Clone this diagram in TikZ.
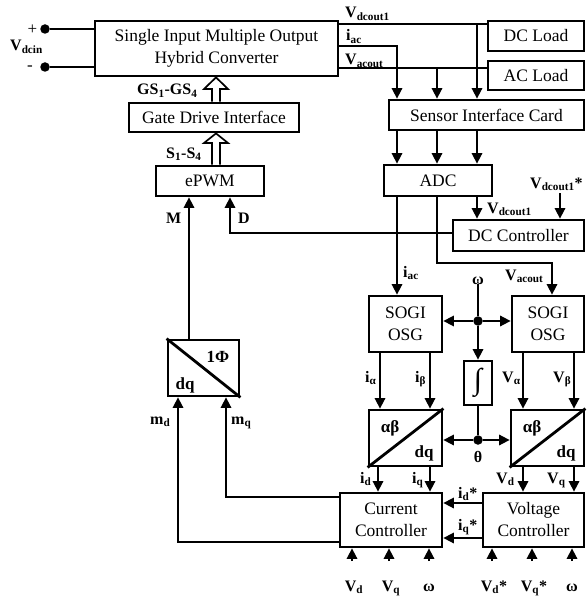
\documentclass[tikz,border=0pt]{standalone}
\usepackage{fontspec}
\setmainfont{Liberation Serif}
\usetikzlibrary{arrows.meta,calc}
\newcommand{\lsub}[2]{#1\textsubscript{#2}}
\begin{document}
\begin{tikzpicture}[x=1pt,y=-1pt,
  box/.style={draw, line width=2.8pt, font=\fontsize{17.5}{22}\selectfont, align=center, inner sep=0pt},
  lbl/.style={font=\fontsize{16}{18}\selectfont\bfseries, inner sep=0pt, anchor=base west},
  clbl/.style={font=\fontsize{16}{18}\selectfont\bfseries, inner sep=0pt, anchor=base},
  conn/.style={line width=1.7pt},
  arr/.style={conn, -{Triangle[length=10.5pt,width=10.5pt]}},
  hollow/.style={line width=1.7pt, line join=miter},
  dotn/.style={circle, fill, inner sep=0pt, minimum size=9.5pt}]
\useasboundingbox (0,0) rectangle (586,596);

% boxes
\node[box, minimum width=243pt, minimum height=55pt] (simo) at (216.5,48.5) {Single Input Multiple Output\\Hybrid Converter};
\node[box, minimum width=96pt, minimum height=30pt] (dcl) at (536,36) {DC Load};
\node[box, minimum width=96pt, minimum height=29pt] (acl) at (536,75.5) {AC Load};
\node[box, minimum width=170pt, minimum height=29pt] (gdi) at (214,117.5) {Gate Drive Interface};
\node[box, minimum width=195pt, minimum height=30pt] (sic) at (486.5,115) {Sensor Interface Card};
\node[box, minimum width=108pt, minimum height=30pt] (epwm) at (210,181) {ePWM};
\node[box, minimum width=108pt, minimum height=31pt] (adc) at (438,180.5) {ADC};
\node[box, minimum width=131pt, minimum height=31pt] (dcc) at (518.5,235.5) {DC Controller};
\node[box, minimum width=73pt, minimum height=56pt] (sogi1) at (405.5,324) {SOGI\\OSG};
\node[box, minimum width=72pt, minimum height=56pt] (sogi2) at (548,324) {SOGI\\OSG};
\node[box, minimum width=28pt, minimum height=44pt, font=\fontsize{30}{30}\selectfont] (integ) at (478,383) {∫};
\node[box, minimum width=73pt, minimum height=56pt] (abdq1) at (405.5,438) {};
\node[box, minimum width=73pt, minimum height=56pt] (abdq2) at (547.5,438) {};
\node[box, minimum width=71pt, minimum height=56pt] (phi) at (203.5,368) {};
\node[box, minimum width=102pt, minimum height=54pt] (cc) at (391,520) {Current\\Controller};
\node[box, minimum width=101pt, minimum height=54pt] (vc) at (533.5,520) {Voltage\\Controller};

% transform box diagonals and texts
\draw[line width=2.8pt] (abdq1.south west) -- (abdq1.north east);
\draw[line width=2.8pt] (abdq2.south west) -- (abdq2.north east);
\draw[line width=2.8pt] (phi.north west) -- (phi.south east);
\node[clbl, font=\fontsize{17}{18}\selectfont\bfseries] (ab1) at (390,432) {αβ};
\node[clbl, font=\fontsize{17}{18}\selectfont\bfseries] (dq1) at (424,457) {dq};
\node[clbl, font=\fontsize{17}{18}\selectfont\bfseries] (ab2) at (532,432) {αβ};
\node[clbl, font=\fontsize{17}{18}\selectfont\bfseries] (dq2) at (566,457) {dq};
\node[clbl, font=\fontsize{17}{18}\selectfont\bfseries] (p1) at (218,362) {1Φ};
\node[clbl, font=\fontsize{17}{18}\selectfont\bfseries] (pdq) at (185,389) {dq};

% input terminals
\node[dotn] (tp) at (45,29) {};
\node[dotn] (tm) at (45,67) {};
\draw[conn] (tp) -- (simo.west |- tp);
\draw[conn] (tm) -- (simo.west |- tm);
\node[inner sep=0pt, font=\fontsize{17}{18}\selectfont] (plus) at (32.5,30) {+};
\node[inner sep=0pt, font=\fontsize{17}{18}\selectfont] (minus) at (30,68) {-};
\node[lbl] (vdcin) at (10,51) {\lsub{V}{dcin}};

% hollow arrows
\draw[hollow] (212,0 |- gdi.north) -- (212,89) -- (204,89) -- (216,0 |- simo.south) -- (228,89) -- (220,89) -- (220,0 |- gdi.north);
\draw[hollow] (212,0 |- epwm.north) -- (212,143) -- (204,143) -- (216,0 |- gdi.south) -- (228,143) -- (220,143) -- (220,0 |- epwm.north);
\node[lbl] (gsl) at (137,95) {\lsub{GS}{1}-\lsub{GS}{4}};
\node[lbl] (sl) at (166,158) {\lsub{S}{1}-\lsub{S}{4}};

% converter outputs
\draw[conn] (simo.east |- 0,24) -- (dcl.west |- 0,24);
\draw[arr] (477,24) -- (477,0 |- sic.north);
\draw[arr] (simo.east |- 0,46) -- (397,46) -- (397,0 |- sic.north);
\draw[conn] (simo.east |- 0,68) -- (acl.west |- 0,68);
\draw[arr] (437,68) -- (437,0 |- sic.north);
\node[lbl] (l1) at (345,18) {\lsub{V}{dcout1}};
\node[lbl] (l2) at (346,41) {\lsub{i}{ac}};
\node[lbl] (l3) at (345,65) {\lsub{V}{acout}};

% sensor card to ADC
\foreach \x in {397,437,477} \draw[arr] (\x,0 |- sic.south) -- (\x,0 |- adc.north);

% ADC outputs
\draw[arr] (397,0 |- adc.south) -- (397,0 |- sogi1.north);
\draw[arr] (437,0 |- adc.south) -- (437,263) -- (552,263) -- (552,0 |- sogi2.north);
\draw[arr] (477,0 |- adc.south) -- (477,0 |- dcc.north);
\draw[arr] (560,193) -- (560,0 |- dcc.north);
\node[lbl] (l4) at (403,277) {\lsub{i}{ac}};
\node[lbl] (l5) at (505,280) {\lsub{V}{acout}};
\node[lbl] (l6) at (487,213) {\lsub{V}{dcout1}};
\node[lbl] (l7) at (530,188) {\lsub{V}{dcout1}*};

% DC controller to ePWM
\draw[arr] (dcc.west |- 0,233) -- (230,233) -- (230,0 |- epwm.south);
\node[lbl] (ld) at (238,223) {D};
% 1Phi to ePWM
\draw[arr] (189,0 |- phi.north) -- (189,0 |- epwm.south);
\node[lbl] (lm) at (166,223) {M};
% current controller to 1Phi
\draw[arr] (cc.west |- 0,497) -- (226,497) -- (226,0 |- phi.south);
\draw[arr] (cc.west |- 0,542) -- (178,542) -- (178,0 |- phi.south);
\node[lbl] (lmd) at (150,424) {\lsub{m}{d}};
\node[lbl] (lmq) at (231,424) {\lsub{m}{q}};

% omega distribution
\node[clbl] (om) at (478,284) {ω};
\node[dotn] (wd) at (478,321) {};
\draw[conn] (om) -- (wd);
\draw[arr] (wd) -- (sogi1.east |- wd);
\draw[arr] (wd) -- (sogi2.west |- wd);
\draw[arr] (wd) -- (integ.north);

% theta distribution
\node[dotn] (td) at (478,440) {};
\draw[conn] (integ.south) -- (td);
\draw[arr] (td) -- (abdq1.east |- td);
\draw[arr] (td) -- (abdq2.west |- td);
\node[clbl] (th) at (478,462) {θ};

% SOGI to transforms
\foreach \x in {380,430} \draw[arr] (\x,0 |- sogi1.south) -- (\x,0 |- abdq1.north);
\foreach \x in {523,574} \draw[arr] (\x,0 |- sogi2.south) -- (\x,0 |- abdq2.north);
\node[lbl] (la) at (365,382) {\lsub{i}{α}};
\node[lbl] (lb) at (415,382) {\lsub{i}{β}};
\node[lbl] (lva) at (502,382) {\lsub{V}{α}};
\node[lbl] (lvb) at (553,382) {\lsub{V}{β}};

% transforms to controllers
\foreach \x in {378,430} \draw[arr] (\x,0 |- abdq1.south) -- (\x,0 |- cc.north);
\foreach \x in {523,574} \draw[arr] (\x,0 |- abdq2.south) -- (\x,0 |- vc.north);
\node[lbl] (lid) at (360,483) {\lsub{i}{d}};
\node[lbl] (liq) at (412,483) {\lsub{i}{q}};
\node[lbl] (lvd) at (496,483) {\lsub{V}{d}};
\node[lbl] (lvq) at (547,483) {\lsub{V}{q}};

% voltage controller to current controller
\draw[arr] (vc.west |- 0,503) -- (cc.east |- 0,503);
\draw[arr] (vc.west |- 0,538) -- (cc.east |- 0,538);
\node[lbl] (lids) at (458,498) {\lsub{i}{d}*};
\node[lbl] (liqs) at (458,530) {\lsub{i}{q}*};

% bottom inputs
\foreach \x in {352,389,429} \draw[arr] (\x,561) -- (\x,0 |- cc.south);
\foreach \x in {492,532,572} \draw[arr] (\x,561) -- (\x,0 |- vc.south);
\node[clbl] (b1) at (354,591) {\lsub{V}{d}};
\node[clbl] (b2) at (391,591) {\lsub{V}{q}};
\node[clbl] (b3) at (429,591) {ω};
\node[clbl] (b4) at (494,591) {\lsub{V}{d}*};
\node[clbl] (b5) at (534,591) {\lsub{V}{q}*};
\node[clbl] (b6) at (572,591) {ω};
\end{tikzpicture}
\end{document}
